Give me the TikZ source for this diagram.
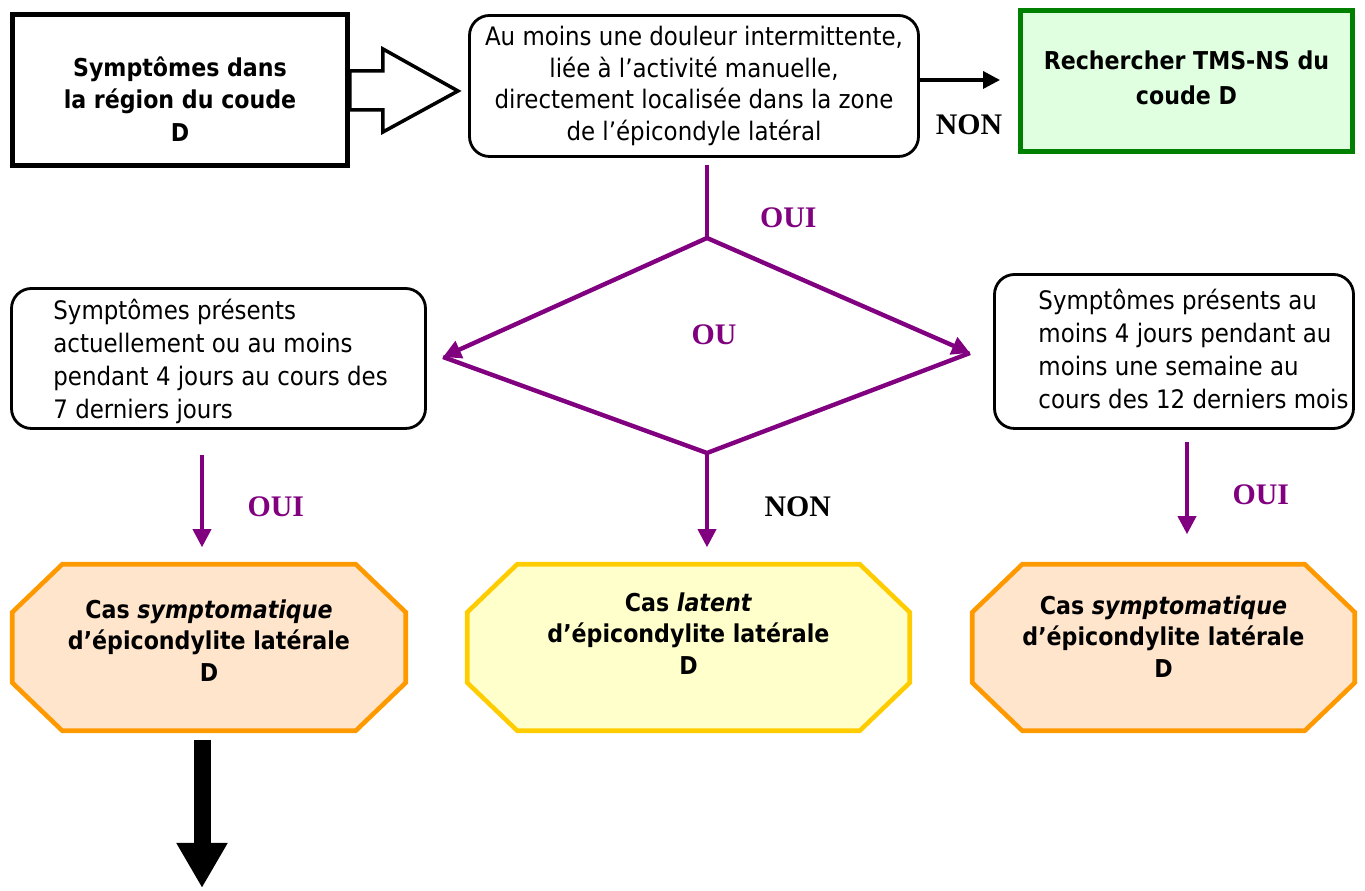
\documentclass[tikz,border=0pt]{standalone}
\usepackage{fontspec}
\setmainfont{DejaVu Sans Condensed}
\newfontfamily\labelfont{Liberation Serif}
\usetikzlibrary{positioning,arrows.meta,calc,backgrounds}

\definecolor{ouipurple}{HTML}{800080}
\definecolor{casorange}{HTML}{FF9900}
\definecolor{casfill}{HTML}{FFE5CC}
\definecolor{latyellow}{HTML}{FFCC00}
\definecolor{latfill}{HTML}{FFFFCC}
\definecolor{tmsgreen}{HTML}{008000}
\definecolor{tmsfill}{HTML}{E0FFE0}

\begin{document}
\begin{tikzpicture}[>={Triangle[length=0.36cm,width=0.36cm]},
    every node/.style={font=\fontsize{14.5}{18}\selectfont},
    txtbox/.style={draw,line width=1.6pt,rounded corners=0.4cm},
    rectbox/.style={draw,line width=2.8pt,align=center,font=\bfseries\fontsize{14}{18}\selectfont},
    casbox/.style={outer sep=0pt,align=center,minimum height=3.33cm,font=\bfseries\fontsize{14}{18}\selectfont},
    oui/.style={font=\labelfont\bfseries\fontsize{17}{18}\selectfont,text=ouipurple},
    non/.style={font=\labelfont\bfseries\fontsize{17}{18}\selectfont,text=black},
    flow/.style={->,ouipurple,line width=2pt}]
  \useasboundingbox (0,0) rectangle (27.3,17.82);

  % top row
  \node[rectbox,minimum width=6.7cm,minimum height=3.02cm] (sympt) at (3.6,16.02) {};
  \node[align=center,font=\bfseries\fontsize{14}{18.6}\selectfont] (sympttxt)
    at ([yshift=-0.18cm]sympt.center) {Symptômes dans\\la région du coude\\D};
  \node[txtbox,minimum width=8.98cm,minimum height=2.82cm,align=center,inner sep=2pt] (cond) at (13.88,16.1)
    {Au moins une douleur intermittente,\\liée à l’activité manuelle,\\directement localisée dans la zone\\de l’épicondyle latéral};
  \node[rectbox,draw=tmsgreen,fill=tmsfill,minimum width=6.64cm,minimum height=2.82cm,
    font=\bfseries\fontsize{14}{20}\selectfont,text depth=0.14cm] (tms) at (23.73,16.2)
    {Rechercher TMS-NS du\\coude D};

  \draw[line width=2pt,fill=white] ([yshift=0.38cm]sympt.east) -- ++(0.66,0) -- ++(0,0.44)
    -- ++(1.5,-0.84) -- ++(-1.5,-0.82) -- ++(0,0.44) -- ++(-0.66,0) -- cycle;
  \draw[line width=2pt,-{Triangle[length=0.34cm,width=0.34cm]},shorten >=0.36cm]
    ([yshift=0.12cm]cond.east) -- ([yshift=0.12cm]cond.east -| tms.west)
    node[non,midway,below=0.55cm] (non1) {NON};

  % diamond
  \coordinate (dtop) at (14.14,13.06);
  \coordinate (dleft) at (8.86,10.68);
  \coordinate (dbot) at (14.14,8.76);
  \coordinate (dright) at (19.4,10.76);
  \draw[ouipurple,line width=2.5pt,shorten <=0.14cm] (dtop |- cond.south) -- (dtop)
    node[oui,pos=0.75,right=0.9cm] (oui1) {OUI};
  \draw[flow,line width=2.5pt] (dtop) -- (dleft);
  \draw[flow,line width=2.5pt] (dtop) -- (dright);
  \draw[ouipurple,line width=2.5pt] (dleft) -- (dbot) -- (dright);
  \node[oui] (ou) at (14.28,11.12) {OU};

  % side boxes
  \node[txtbox,minimum width=8.28cm,minimum height=2.8cm] (lbox) at (4.37,10.65) {};
  \node[anchor=west,align=left,inner sep=0pt,font=\fontsize{14.5}{18.8}\selectfont] (lboxtxt)
    at ([xshift=0.86cm,yshift=-0.06cm]lbox.west)
    {Symptômes présents\\actuellement ou au moins\\pendant 4 jours au cours des\\7 derniers jours};
  \node[txtbox,minimum width=7.18cm,minimum height=3.08cm] (rbox) at (23.48,10.79) {};
  \node[anchor=west,align=left,inner sep=0pt,font=\fontsize{14.5}{18.8}\selectfont] (rboxtxt)
    at ([xshift=0.9cm,yshift=0.05cm]rbox.west)
    {Symptômes présents au\\moins 4 jours pendant au\\moins une semaine au\\cours des 12 derniers mois};

  % cases
  \node[casbox,minimum width=7.87cm,text depth=0.28cm] (lcase) at (4.18,4.87)
    {Cas \textit{symptomatique}\\d’épicondylite latérale\\D};
  \node[casbox,minimum width=8.85cm,text depth=0.56cm] (mcase) at (13.77,4.87)
    {Cas \textit{latent}\\d’épicondylite latérale\\D};
  \node[casbox,minimum width=7.65cm,text depth=0.44cm] (rcase) at (23.27,4.87)
    {Cas \textit{symptomatique}\\d’épicondylite latérale\\D};
  \begin{scope}[on background layer]
    \foreach \c/\col/\fil in {lcase/casorange/casfill,mcase/latyellow/latfill,rcase/casorange/casfill}
      \draw[line width=2.6pt,draw=\col,fill=\fil]
        ([xshift=1cm]\c.north west) -- ([xshift=-1cm]\c.north east)
        -- ([yshift=-0.96cm]\c.north east) -- ([yshift=0.96cm]\c.south east)
        -- ([xshift=-1cm]\c.south east) -- ([xshift=1cm]\c.south west)
        -- ([yshift=0.96cm]\c.south west) -- ([yshift=-0.96cm]\c.north west) -- cycle;
  \end{scope}

  \coordinate (lcol) at (4.04,0);
  \coordinate (rcol) at (23.74,0);
  \coordinate (exit) at (4.04,0.06);
  \draw[flow,shorten <=0.5cm,shorten >=0.34cm] (lbox.south -| lcol) -- (lcase.north -| lcol)
    node[oui,pos=0.57,right=0.76cm] (oui2) {OUI};
  \draw[flow,shorten >=0.34cm] (dbot) -- (mcase.north -| dbot)
    node[non,pos=0.48,right=1.0cm] (non2) {NON};
  \draw[flow,shorten <=0.24cm,shorten >=0.6cm] (rbox.south -| rcol) -- (rcase.north -| rcol)
    node[oui,pos=0.48,right=0.76cm] (oui3) {OUI};
  \draw[line width=0.34cm,-{Triangle[width=0.96cm,length=0.9cm]},shorten <=0.18cm]
    (lcase.south -| lcol) -- (exit);
\end{tikzpicture}
\end{document}
